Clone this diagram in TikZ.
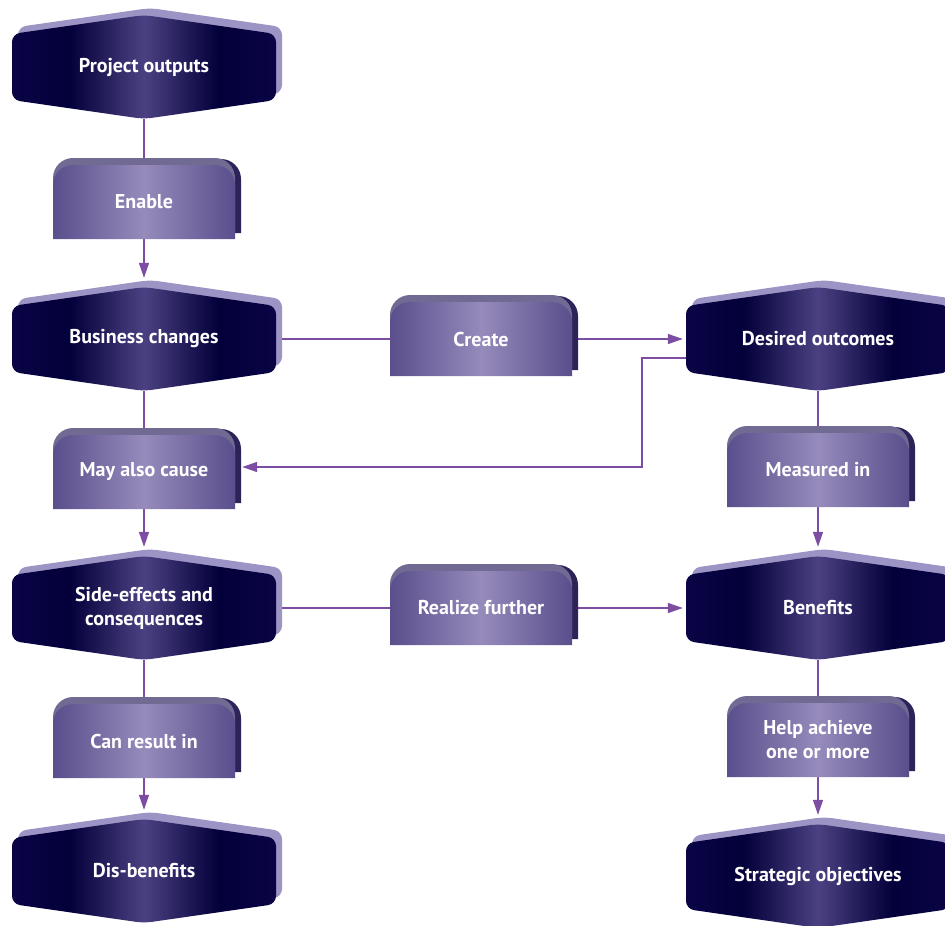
\documentclass[tikz,border=0pt]{standalone}
\usepackage{fontspec}
\setmainfont{PT Sans}
\usetikzlibrary{arrows.meta,backgrounds}

\definecolor{hexdark}{HTML}{0A0445}
\definecolor{hexdeep}{HTML}{03003A}
\definecolor{hexmid}{HTML}{4B4182}
\definecolor{hexrim}{HTML}{9C94C4}
\definecolor{tabedge}{HTML}{5A4E8C}
\definecolor{tabmid}{HTML}{968BBB}
\definecolor{tabside}{HTML}{2C2458}
\definecolor{tabtop}{HTML}{716A93}
\definecolor{linkcol}{HTML}{7D4DA3}

\pgfdeclarehorizontalshading{hexshade}{100bp}{color(0bp)=(hexdark); color(25bp)=(hexdark); color(36bp)=(hexdeep); color(50bp)=(hexmid); color(64bp)=(hexdeep); color(75bp)=(hexdark); color(100bp)=(hexdark)}
\pgfdeclarehorizontalshading{tabshade}{100bp}{color(0bp)=(tabedge); color(25bp)=(tabedge); color(50bp)=(tabmid); color(75bp)=(tabedge); color(100bp)=(tabedge)}

\newcommand{\hexpath}{[rounded corners=8pt] (-132,-33) -- (0,-52) -- (132,-33) -- (132,33) -- (0,52) -- (-132,33) -- cycle}
\newcommand{\tabpath}{(-91,37) -- (-91,-17) arc[start angle=180, end angle=270, radius=20] -- (71,-37) arc[start angle=270, end angle=360, radius=20] -- (91,37) -- cycle}

% hexagon: name, centre, text
\newcommand{\hexbox}[3]{%
  \begin{scope}[shift={(#2)}]
    \fill[hexrim, shift={(6,-7)}] \hexpath;
    \shade[shading=hexshade] \hexpath;
  \end{scope}
  \node[hexlabel] (#1) at (#2) {#3};
}
% tab: name, centre, text
\newcommand{\tabbox}[3]{%
  \begin{scope}[shift={(#2)}]
    \fill[tabside, shift={(6,-6)}] \tabpath;
    \fill[tabtop, shift={(0,-7)}] \tabpath;
    \shade[shading=tabshade] \tabpath;
  \end{scope}
  \node[tablabel] (#1) at (#2) {#3};
}

\tikzset{
  hexlabel/.style={minimum width=264pt, minimum height=104pt, inner sep=0pt,
    text=white, align=center, font=\bfseries\fontsize{20}{24}\selectfont},
  tablabel/.style={minimum width=182pt, minimum height=74pt, inner sep=0pt,
    text=white, align=center, font=\bfseries\fontsize{20}{24}\selectfont},
  link/.style={draw=linkcol, line width=1.5pt},
  arrow/.style={link, -{Triangle[length=15pt,width=10pt]}, shorten >=9pt}
}

\begin{document}
\begin{tikzpicture}[x=1pt, y=-1pt]
  \useasboundingbox (0,0) rectangle (945,926);

  % left column
  \hexbox{project}{144,67}{Project outputs}
  \tabbox{enable}{144,202}{Enable}
  \hexbox{business}{144,339}{Business changes}
  \tabbox{maycause}{144,472}{May also cause}
  \hexbox{side}{144,608}{Side-effects and\\consequences}
  \tabbox{canresult}{144,741}{Can result in}
  \hexbox{dis}{144,871}{Dis-benefits}

  % middle
  \tabbox{create}{481,339}{Create}
  \tabbox{realize}{481,608}{Realize further}

  % right column
  \hexbox{desired}{818,339}{Desired outcomes}
  \tabbox{measured}{818,470}{Measured in}
  \hexbox{benefits}{818,608}{Benefits}
  \tabbox{help}{818,740}{Help achieve\\one or more}
  \hexbox{strategic}{818,876}{Strategic objectives}

  \begin{scope}[on background layer]
    \draw[link] (project) -- (enable);
    \draw[arrow] (enable) -- (business);
    \draw[link] (business) -- (maycause);
    \draw[arrow] (maycause) -- (side);
    \draw[link] (side) -- (canresult);
    \draw[arrow] (canresult) -- (dis);
    \draw[link] (business) -- (create);
    \draw[arrow, shorten >=3pt] (create) -- (desired);
    \draw[link] (side) -- (realize);
    \draw[arrow, shorten >=3pt] (realize) -- (benefits);
    \draw[link] (desired) -- (measured);
    \draw[arrow] (measured) -- (benefits);
    \draw[link] (benefits) -- (help);
    \draw[arrow] (help) -- (strategic);
    \draw[arrow, shorten >=0pt] ([yshift=-19pt]desired.west) -- ++(-44,0)
      |- ([xshift=7pt,yshift=5pt]maycause.east);
  \end{scope}
\end{tikzpicture}
\end{document}
